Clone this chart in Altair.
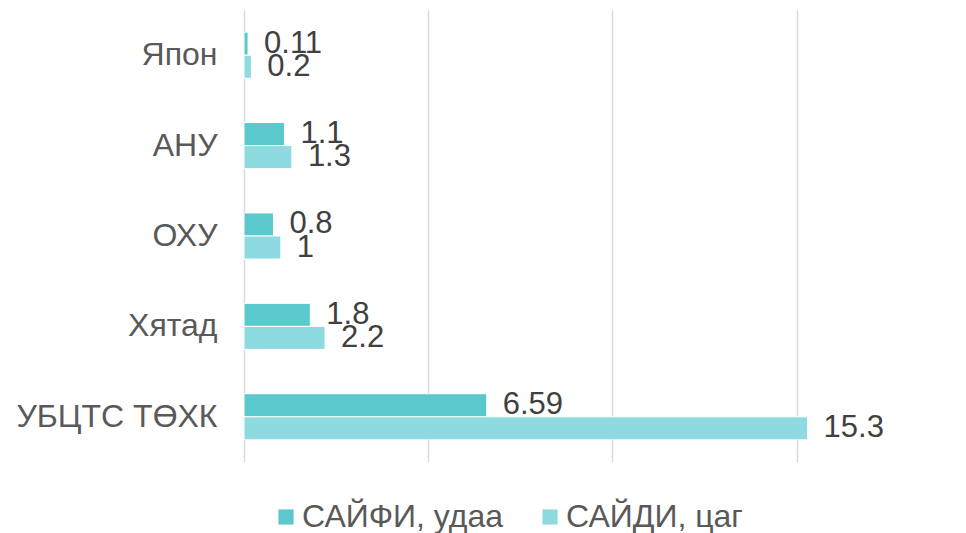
import altair as alt
import pandas as pd

categories = ["Япон", "АНУ", "ОХУ", "Хятад", "УБЦТС ТӨХК"]
series = ["САЙФИ, удаа", "САЙДИ, цаг"]
saifi = [0.11, 1.1, 0.8, 1.8, 6.59]
saidi = [0.2, 1.3, 1.0, 2.2, 15.3]
saifi_labels = ["0.11", "1.1", "0.8", "1.8", "6.59"]
saidi_labels = ["0.2", "1.3", "1", "2.2", "15.3"]
colors = ["#5BC8CC", "#8DDAE0"]

rows = []
for i, c in enumerate(categories):
    rows.append({"cat": c, "series": series[0], "value": saifi[i], "label": saifi_labels[i]})
    rows.append({"cat": c, "series": series[1], "value": saidi[i], "label": saidi_labels[i]})
df = pd.DataFrame(rows)

FONT = "Liberation Sans"
FS = 31
FS_CAT = 32

y = alt.Y("cat:N", sort=categories, title=None,
          scale=alt.Scale(paddingInner=0.49, paddingOuter=0.245),
          axis=alt.Axis(labelFontSize=FS_CAT, labelColor="#595959", labelFont=FONT,
                        ticks=False, domain=False, labelPadding=27, labelLimit=400))
x = alt.X("value:Q", title=None,
          scale=alt.Scale(domain=[0, 18], nice=False),
          axis=alt.Axis(values=[0, 5, 10, 15], labels=False, ticks=False, domain=False,
                        grid=True, gridColor="#D9D9D9", gridWidth=1.5))
yoff = alt.YOffset("series:N", sort=series, scale=alt.Scale(paddingInner=0, paddingOuter=0))

bars = alt.Chart(df).mark_bar(stroke="white", strokeWidth=1).encode(
    x=x, y=y, yOffset=yoff,
    color=alt.Color("series:N", sort=series,
                    scale=alt.Scale(domain=series, range=colors),
                    legend=alt.Legend(title=None, orient="none", direction="horizontal",
                                      legendX=26, legendY=491, symbolType="square",
                                      symbolSize=230, symbolStrokeWidth=0,
                                      labelFontSize=FS_CAT, labelColor="#595959", labelFont=FONT,
                                      labelLimit=400, columnPadding=30, labelOffset=0)),
)

text = alt.Chart(df).mark_text(align="left", baseline="middle", dx=16, fontSize=FS,
                               color="#404040", font=FONT).encode(
    x="value:Q", y=alt.Y("cat:N", sort=categories), yOffset=yoff, text="label:N")

chart = (bars + text).properties(
    width=663, height=452,
    autosize=alt.AutoSizeParams(type="none"),
    padding={"left": 236, "top": 2, "right": 40, "bottom": 74},
).configure_view(stroke=None)

chart.save("out.html", embed_options={"renderer": "svg", "actions": False})
